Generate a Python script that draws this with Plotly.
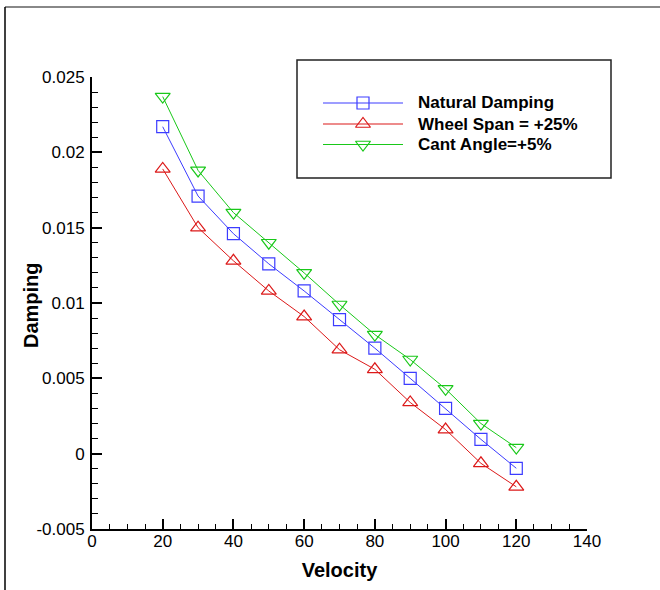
import plotly.graph_objects as go

velocity = [20, 30, 40, 50, 60, 70, 80, 90, 100, 110, 120]
natural_damping = [0.0217, 0.0171, 0.0146, 0.0126, 0.0108, 0.0089, 0.0070, 0.0050, 0.0030, 0.00095, -0.00097]
wheel_span = [0.0189, 0.0150, 0.0128, 0.0108, 0.0091, 0.0069, 0.0056, 0.0034, 0.0016, -0.00064, -0.0022]
cant_angle = [0.0237, 0.0188, 0.0160, 0.0140, 0.0120, 0.0099, 0.0079, 0.00625, 0.0043, 0.0020, 0.0004]

series_names = ['Natural Damping', 'Wheel Span = +25%', 'Cant Angle=+5%']
y_tickvals = [-0.005, 0, 0.005, 0.01, 0.015, 0.02, 0.025]
y_ticktext = ['-0.005', '0', '0.005', '0.01', '0.015', '0.02', '0.025']

W, H = 660, 590
L, R, T, B = 92, 73, 77, 61
FONT = 'Liberation Sans, Arial, sans-serif'

colors = ['rgb(60,60,255)', 'rgb(220,25,25)', 'rgb(25,200,25)']
symbols = ['square-open', 'triangle-up-open', 'triangle-down-open']
sizes = [12, 13, 13]


def px_x(p):
    return (p - L) / (W - L - R)


def px_y(p):
    return (H - B - p) / (H - T - B)


fig = go.Figure()
for name, vals, c, s, sz in zip(series_names, [natural_damping, wheel_span, cant_angle], colors, symbols, sizes):
    fig.add_trace(go.Scatter(
        x=velocity, y=vals, name=name, mode='lines+markers',
        line=dict(color=c, width=1),
        marker=dict(symbol=s, size=sz, color=c, line=dict(width=1.2, color=c)),
        showlegend=False,
    ))

# hand-made legend, drawn on an overlay axis measured in pixels
legend_rows = [103, 124, 144.5]
for name, c, s, sz, ry in zip(series_names, colors, symbols, sizes, legend_rows):
    fig.add_trace(go.Scatter(
        x=[323, 363, 403], y=[ry, ry, ry], mode='lines',
        line=dict(color=c, width=1.2), xaxis='x2', yaxis='y2',
        showlegend=False, hoverinfo='skip',
    ))
    fig.add_trace(go.Scatter(
        x=[363], y=[ry], mode='markers',
        marker=dict(symbol=s, size=sz, color=c, line=dict(width=1.2, color=c)),
        xaxis='x2', yaxis='y2', showlegend=False, hoverinfo='skip',
    ))
    fig.add_annotation(x=px_x(416), y=px_y(ry), xref='paper', yref='paper',
                       text=name, showarrow=False, xanchor='left', yanchor='middle',
                       font=dict(family=FONT, size=17, color='black', weight='bold'))

fig.add_shape(type='rect', xref='paper', yref='paper',
              x0=px_x(297), x1=px_x(611), y0=px_y(60), y1=px_y(178),
              line=dict(color='#222', width=1.5), fillcolor='rgba(0,0,0,0)')

# outer frame lines
fig.add_shape(type='line', xref='paper', yref='paper',
              x0=px_x(5), x1=px_x(660), y0=px_y(7), y1=px_y(7),
              line=dict(color='#888', width=2))
fig.add_shape(type='line', xref='paper', yref='paper',
              x0=px_x(5), x1=px_x(5), y0=px_y(7), y1=px_y(590),
              line=dict(color='black', width=1.5))

# y title as annotation so it can sit close to the tick labels
fig.add_annotation(x=px_x(31), y=px_y(305), xref='paper', yref='paper',
                   text='Damping', textangle=-90, showarrow=False,
                   xanchor='center', yanchor='middle',
                   font=dict(family=FONT, size=20, color='black', weight='bold'))

fig.update_layout(
    width=W, height=H,
    margin=dict(l=L, r=R, t=T, b=B),
    paper_bgcolor='white', plot_bgcolor='white',
    font=dict(family=FONT, size=17, color='black'),
    xaxis=dict(
        range=[0, 140], dtick=20, tick0=0,
        showgrid=False, zeroline=False,
        showline=True, linecolor='black', linewidth=2,
        ticks='inside', ticklen=10, tickwidth=2, tickcolor='black',
        ticklabelstandoff=-4,
        minor=dict(dtick=5, ticks='inside', ticklen=5, tickwidth=1, tickcolor='black'),
        title=dict(text='Velocity', font=dict(size=20, weight='bold'), standoff=13),
        automargin=False,
    ),
    yaxis=dict(
        range=[-0.005, 0.025],
        tickvals=y_tickvals, ticktext=y_ticktext,
        showgrid=False, zeroline=False,
        showline=True, linecolor='black', linewidth=2,
        ticks='inside', ticklen=10, tickwidth=2, tickcolor='black',
        ticklabelstandoff=2,
        minor=dict(dtick=0.001, ticks='inside', ticklen=6, tickwidth=1, tickcolor='black'),
        automargin=False,
    ),
    xaxis2=dict(range=[L, W - R], overlaying='x', visible=False, fixedrange=True),
    yaxis2=dict(range=[H - B, T], overlaying='y', visible=False, fixedrange=True),
)

fig.write_html("out.html", config={'displayModeBar': False},
               post_script="document.body.style.margin='0';document.body.style.overflow='hidden';")
